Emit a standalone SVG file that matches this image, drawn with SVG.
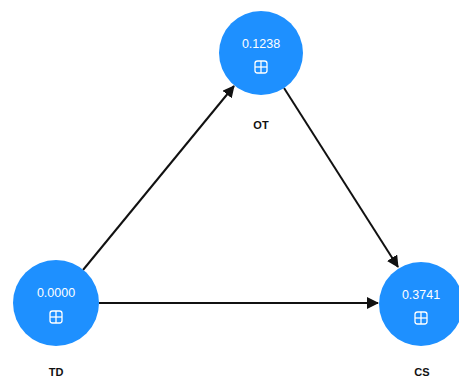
<svg xmlns="http://www.w3.org/2000/svg" width="459" height="381" viewBox="0 0 459 381">
  <style>
    .node { fill: #1e90ff; }
    .val { font-family: "Liberation Sans", Arial, sans-serif; font-size: 12.5px; fill: #ffffff; text-anchor: middle; }
    .icon { fill: none; stroke: #ffffff; stroke-width: 1.3; }
    .lbl { font-family: "Liberation Sans", Arial, sans-serif; font-size: 11px; font-weight: bold; fill: #111111; text-anchor: middle; }
    .edge { stroke: #111111; stroke-width: 2; fill: none; marker-end: url(#arrow); }
  </style>
  <defs>
    <marker id="arrow" markerWidth="6" markerHeight="6" refX="5.5" refY="3" orient="auto" markerUnits="strokeWidth">
      <path d="M0,0 L6,3 L0,6 Z" fill="#111111"/>
    </marker>
    <g id="expand">
      <rect x="-6" y="-6" width="12" height="12" rx="2.5" class="icon"/>
      <line x1="-6" y1="0" x2="6" y2="0" class="icon"/>
      <line x1="0" y1="-6" x2="0" y2="6" class="icon"/>
    </g>
  </defs>

  <g id="connectors">
    <line class="edge" x1="83" y1="270" x2="234" y2="86"/>
    <line class="edge" x1="284" y1="88" x2="398" y2="267"/>
    <line class="edge" x1="99" y1="303" x2="378" y2="303"/>
  </g>

  <g id="node-OT">
    <circle class="node" cx="261" cy="53" r="42"/>
    <text class="val" x="261" y="48">0.1238</text>
    <use href="#expand" x="261" y="67"/>
    <text class="lbl" x="261" y="129">OT</text>
  </g>

  <g id="node-TD">
    <circle class="node" cx="56" cy="303" r="43"/>
    <text class="val" x="56" y="297">0.0000</text>
    <use href="#expand" x="56" y="317"/>
    <text class="lbl" x="56" y="376">TD</text>
  </g>

  <g id="node-CS">
    <circle class="node" cx="421" cy="304" r="42"/>
    <text class="val" x="421" y="299">0.3741</text>
    <use href="#expand" x="421" y="318"/>
    <text class="lbl" x="422" y="376">CS</text>
  </g>
</svg>
